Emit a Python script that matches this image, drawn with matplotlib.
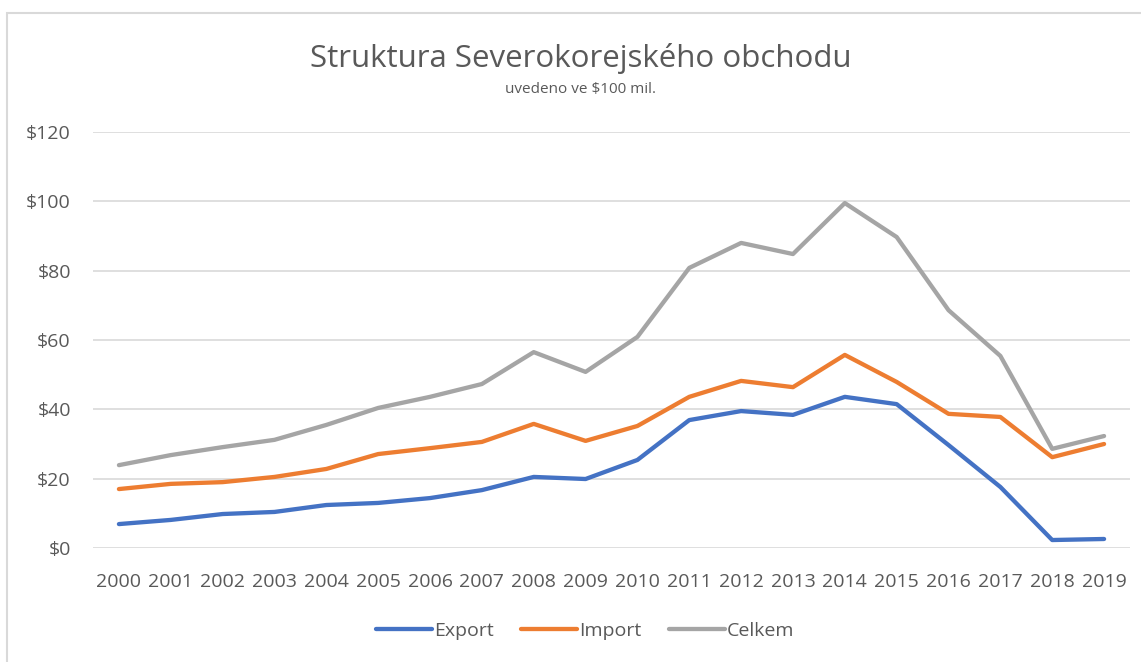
import numpy as np
import matplotlib
matplotlib.use("Agg")
from matplotlib import pyplot as plt
from matplotlib.patches import Rectangle

# data
years = [str(y) for y in range(2000, 2020)]
export = [6.9, 8.1, 9.8, 10.4, 12.4, 13.0, 14.4, 16.7, 20.5, 19.9,
          25.4, 36.9, 39.5, 38.4, 43.6, 41.5, 29.7, 17.6, 2.3, 2.6]
imports = [17.0, 18.5, 19.0, 20.5, 22.8, 27.1, 28.8, 30.6, 35.8, 30.9,
           35.2, 43.6, 48.2, 46.4, 55.7, 47.9, 38.7, 37.8, 26.2, 30.0]
celkem = [23.9, 26.8, 29.1, 31.2, 35.5, 40.4, 43.6, 47.3, 56.5, 50.8,
          60.9, 80.8, 88.0, 84.8, 99.5, 89.7, 68.6, 55.4, 28.6, 32.3]
yticks = [0, 20, 40, 60, 80, 100, 120]

plt.rcParams['font.family'] = ['Open Sans', 'DejaVu Sans']
txt = '#595959'

fig = plt.figure(figsize=(11.41, 6.62), dpi=100)
# chart frame (cut off at right and bottom like the screenshot)
fig.patches.append(Rectangle((7/1141, -0.1), 1.2, 1 - 13/662 + 0.1,
                             transform=fig.transFigure, fill=False,
                             edgecolor='#d9d9d9', linewidth=1.5))

ax = fig.add_axes([93/1141, 1 - 548/662, (1130 - 93)/1141, (548 - 132)/662])
x = np.arange(len(years))
ax.plot(x, export, color='#4472C4', lw=3.1, label='Export', solid_capstyle='round')
ax.plot(x, imports, color='#ED7D31', lw=3.1, label='Import', solid_capstyle='round')
ax.plot(x, celkem, color='#A5A5A5', lw=3.1, label='Celkem', solid_capstyle='round')

ax.set_xlim(-0.5, len(years) - 0.5)
ax.set_ylim(0, 120)
ax.set_yticks(yticks)
ax.set_yticklabels(['$%d' % v for v in yticks])
ax.set_xticks(x)
ax.set_xticklabels(years)
ax.grid(axis='y', color='#d9d9d9', lw=1.2)
ax.set_axisbelow(True)
for s in ax.spines.values():
    s.set_visible(False)
ax.tick_params(length=0, labelsize=14, colors=txt)
ax.tick_params(axis='x', pad=18)
ax.tick_params(axis='y', pad=16)

fig.text(581/1141, 1 - 58/662, 'Struktura Severokorejského obchodu', ha='center',
         va='center', fontsize=22.5, color=txt)
fig.text(581/1141, 1 - 90/662, 'uvedeno ve $100 mil.', ha='center', va='center',
         fontsize=11, color=txt)

fig.legend(loc='center', bbox_to_anchor=(585/1141, 1 - 631/662), ncol=3,
           frameon=False, fontsize=14, labelcolor=txt, handlelength=2.9,
           handletextpad=0.1, columnspacing=1.4)

fig.savefig('out.png', dpi=100)
